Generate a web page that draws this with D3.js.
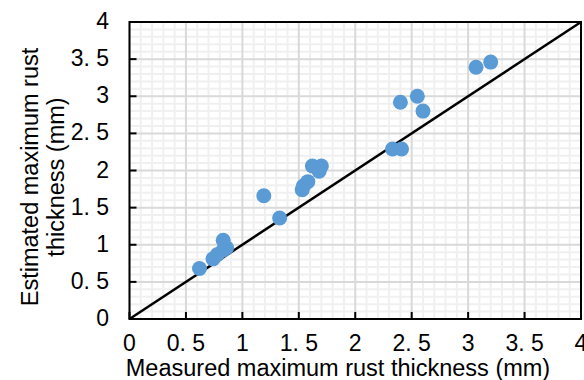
<!DOCTYPE html>
<html lang="en">
<head>
<meta charset="UTF-8">
<title>Measured vs estimated rust thickness</title>
<script src="https://d3js.org/d3.v7.min.js"></script>
<style>
    body { margin: 0; background: #fff; }
    .tick-label { font-family: "Liberation Sans Narrow", "Liberation Sans", sans-serif; font-size: 23px; fill: #000; }
    .axis-title { font-family: "Liberation Sans", Arial, sans-serif; font-size: 23.5px; fill: #000; }
</style>
</head>
<body>
<svg id="chart" width="584" height="380"></svg>
<script>
    // measured (x) and estimated (y) maximum rust thickness, mm
    const measured  = [0.62, 0.74, 0.78, 0.83, 0.86, 0.83, 1.19, 1.33, 1.53, 1.54, 1.58, 1.62, 1.70, 1.68, 2.33, 2.41, 2.40, 2.55, 2.60, 3.07, 3.20];
    const estimated = [0.68, 0.81, 0.87, 0.93, 0.96, 1.06, 1.66, 1.36, 1.74, 1.79, 1.85, 2.06, 2.06, 1.99, 2.29, 2.29, 2.92, 3.00, 2.80, 3.39, 3.46];
    const tickValues = [0, 0.5, 1, 1.5, 2, 2.5, 3, 3.5, 4];

    const svg = d3.select('#chart');
    const plotL = 129.5, plotR = 581, plotT = 22, plotB = 319;

    const x = d3.scaleLinear().domain([0, 4]).range([plotL, plotR]);
    const y = d3.scaleLinear().domain([0, 4]).range([plotB, plotT]);
    const fmt = d => String(d).replace('.', '. ');

    // minor grid
    const minor = d3.range(0, 4.01, 0.1).filter(v => Math.abs(v * 2 - Math.round(v * 2)) > 1e-6);
    const grid = svg.append('g');
    grid.selectAll('.vminor').data(minor).join('line')
        .attr('x1', d => x(d)).attr('x2', d => x(d)).attr('y1', plotT).attr('y2', plotB)
        .attr('stroke', '#f0f0f0').attr('stroke-width', 2);
    grid.selectAll('.hminor').data(minor).join('line')
        .attr('y1', d => y(d)).attr('y2', d => y(d)).attr('x1', plotL).attr('x2', plotR)
        .attr('stroke', '#f0f0f0').attr('stroke-width', 2);
    // major grid
    grid.selectAll('.vmajor').data(tickValues).join('line')
        .attr('x1', d => x(d)).attr('x2', d => x(d)).attr('y1', plotT).attr('y2', plotB)
        .attr('stroke', '#d9d9d9').attr('stroke-width', 2);
    grid.selectAll('.hmajor').data(tickValues).join('line')
        .attr('y1', d => y(d)).attr('y2', d => y(d)).attr('x1', plotL).attr('x2', plotR)
        .attr('stroke', '#d9d9d9').attr('stroke-width', 2);

    // plot border
    svg.append('rect')
        .attr('x', plotL).attr('y', plotT).attr('width', plotR - plotL).attr('height', plotB - plotT)
        .attr('fill', 'none').attr('stroke', '#000').attr('stroke-width', 2);

    // inward ticks
    svg.append('g').selectAll('line').data(tickValues).join('line')
        .attr('x1', d => x(d)).attr('x2', d => x(d)).attr('y1', plotB).attr('y2', plotB - 7)
        .attr('stroke', '#000').attr('stroke-width', 2);
    svg.append('g').selectAll('line').data(tickValues).join('line')
        .attr('y1', d => y(d)).attr('y2', d => y(d)).attr('x1', plotL).attr('x2', plotL + 7)
        .attr('stroke', '#000').attr('stroke-width', 2);

    // 1:1 line
    svg.append('line')
        .attr('x1', x(0)).attr('y1', y(0)).attr('x2', x(4)).attr('y2', y(4))
        .attr('stroke', '#000').attr('stroke-width', 2.5);

    // points
    svg.append('g').selectAll('circle').data(measured).join('circle')
        .attr('cx', d => x(d))
        .attr('cy', (d, i) => y(estimated[i]))
        .attr('r', 7.5)
        .attr('fill', '#5b9bd5');

    // tick labels
    svg.append('g').selectAll('text').data(tickValues).join('text')
        .attr('class', 'tick-label')
        .attr('x', d => x(d)).attr('y', 351)
        .attr('text-anchor', 'middle')
        .text(fmt);
    svg.append('g').selectAll('text').data(tickValues).join('text')
        .attr('class', 'tick-label')
        .attr('x', 109).attr('y', d => y(d) + 7)
        .attr('text-anchor', 'end')
        .text(fmt);

    // axis titles
    svg.append('text').attr('class', 'axis-title')
        .attr('x', 338).attr('y', 376).attr('text-anchor', 'middle')
        .text('Measured maximum rust thickness (mm)');
    const yt = svg.append('text').attr('class', 'axis-title')
        .attr('text-anchor', 'middle')
        .attr('transform', 'translate(0,177) rotate(-90)');
    yt.append('tspan').attr('x', 0).attr('y', 38).text('Estimated maximum rust');
    yt.append('tspan').attr('x', 0).attr('y', 64).text('thickness (mm)');
</script>
</body>
</html>
